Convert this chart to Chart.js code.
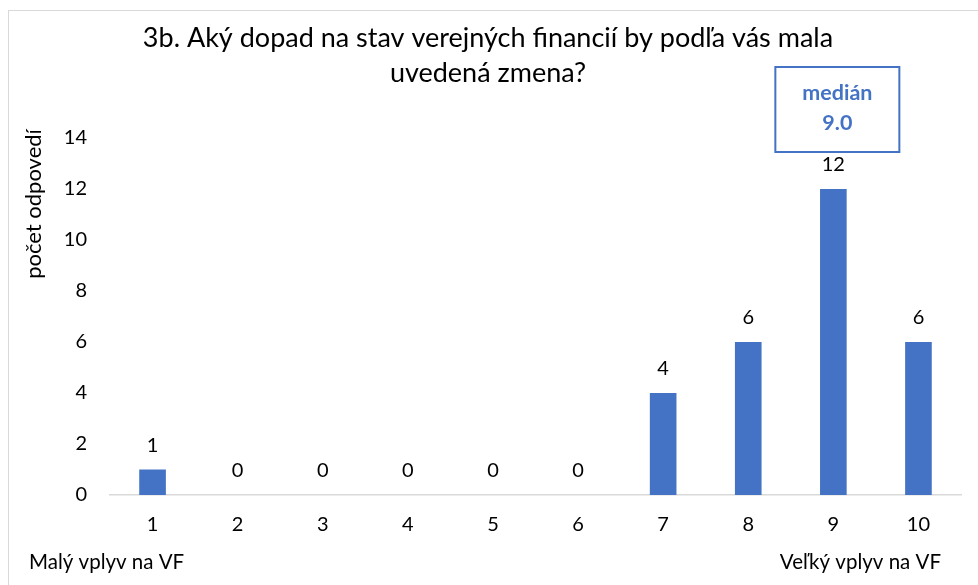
<!DOCTYPE html>
<html>
<head>
<meta charset="utf-8">
<script src="https://cdn.jsdelivr.net/npm/chart.js@4"></script>
<style>
  html, body { margin: 0; padding: 0; background: #fff; }
  canvas { display: block; }
</style>
</head>
<body>
<canvas id="c" width="978" height="585"></canvas>
<script>
"use strict";
/* Histogram of answers, 1..10 scale, with median call-out. */
const titleLines = ["3b. Aký dopad na stav verejných financií by podľa vás mala", "uvedená zmena?"];
const categories = ["1", "2", "3", "4", "5", "6", "7", "8", "9", "10"];
const counts = [1, 0, 0, 0, 0, 0, 4, 6, 12, 6];
const yTicks = [0, 2, 4, 6, 8, 10, 12, 14];
const yTitle = "počet odpovedí";
const leftNote = "Malý vplyv na VF";
const rightNote = "Veľký vplyv na VF";
const medianLabel = "medián";
const medianValue = 9.0;

const FONT = "Lato, 'Open Sans', sans-serif";
const BLUE = "#4472C4";
const GREY = "#D9D9D9";

const decor = {
  id: "decor",
  afterDraw(chart) {
    const ctx = chart.ctx;
    const xs = chart.scales.x;
    ctx.save();

    // outer frame (only top + left visible in the crop)
    ctx.strokeStyle = GREY; ctx.lineWidth = 1;
    ctx.strokeRect(8.5, 10.5, 1000, 700);

    // title
    ctx.fillStyle = "#000";
    ctx.textAlign = "center"; ctx.textBaseline = "alphabetic";
    ctx.font = "27px " + FONT;
    ctx.fillText(titleLines[0], 488, 47);
    ctx.fillText(titleLines[1], 488, 82);

    // y axis title
    ctx.save();
    ctx.translate(41, 204); ctx.rotate(-Math.PI / 2);
    ctx.font = "22px " + FONT;
    ctx.fillText(yTitle, 0, 0);
    ctx.restore();

    // value labels above bars
    const meta = chart.getDatasetMeta(0);
    ctx.font = "20px " + FONT;
    meta.data.forEach((bar, i) => {
      ctx.fillText(String(counts[i]), bar.x, bar.y - 18);
    });

    // median box above the median category
    const mi = categories.indexOf(String(medianValue));
    const cx = (mi >= 0 ? xs.getPixelForValue(mi) : 834) + 4;
    ctx.strokeStyle = BLUE; ctx.lineWidth = 2;
    ctx.strokeRect(cx - 62, 67, 124, 85);
    ctx.fillStyle = BLUE;
    ctx.font = "bold 21.5px " + FONT;
    ctx.fillText(medianLabel, cx, 100);
    ctx.fillText(medianValue.toFixed(1), cx, 130);

    // scale end notes
    ctx.fillStyle = "#000";
    ctx.font = "20.5px " + FONT;
    ctx.textAlign = "left";
    ctx.fillText(leftNote, 29, 569);
    ctx.textAlign = "right";
    ctx.fillText(rightNote, 941, 569);
    ctx.restore();
  }
};

new Chart(document.getElementById("c"), {
  type: "bar",
  data: {
    labels: categories,
    datasets: [{
      data: counts,
      backgroundColor: BLUE,
      borderWidth: 0,
      categoryPercentage: 1,
      barPercentage: 0.313,
    }],
  },
  options: {
    responsive: false,
    animation: false,
    layout: { padding: { left: 8, right: 17, top: 138, bottom: 30 } },
    plugins: { legend: { display: false }, tooltip: { enabled: false } },
    scales: {
      x: {
        grid: { display: false, drawTicks: false },
        border: { color: GREY, width: 1.5 },
        ticks: { color: "#000", font: { family: FONT, size: 20 }, padding: 18, maxRotation: 0 },
        afterFit: (s) => { s.height = 60; },
      },
      y: {
        min: yTicks[0], max: yTicks[yTicks.length - 1],
        grid: { display: false, drawTicks: false },
        border: { display: false },
        ticks: { stepSize: 2, color: "#000", font: { family: FONT, size: 20 }, padding: 23 },
        afterFit: (s) => { s.width = 102; },
      },
    },
  },
  plugins: [decor],
});
</script>
</body>
</html>
